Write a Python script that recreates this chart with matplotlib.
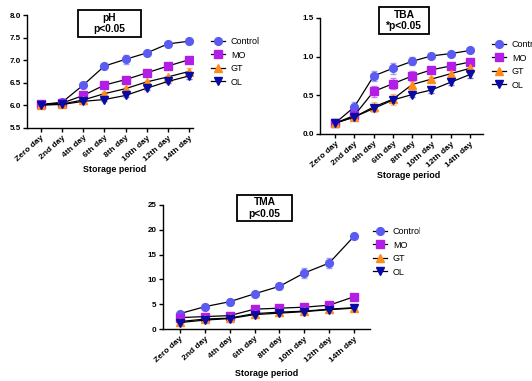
import matplotlib
matplotlib.use("Agg")
import matplotlib.pyplot as plt
from matplotlib.patches import Rectangle

plt.rcParams['font.family'] = ['Liberation Sans', 'DejaVu Sans']
plt.rcParams['font.weight'] = 'bold'

days = ["Zero day", "2nd day", "4th day", "6th day", "8th day", "10th day", "12th day", "14th day"]
groups = ["Control", "MO", "GT", "OL"]

ph_control = [6.02, 6.07, 6.45, 6.87, 7.02, 7.16, 7.36, 7.42]
ph_mo = [6.02, 6.05, 6.22, 6.45, 6.57, 6.72, 6.87, 7.01]
ph_gt = [6.01, 6.03, 6.12, 6.26, 6.37, 6.52, 6.63, 6.75]
ph_ol = [6.01, 6.02, 6.09, 6.13, 6.22, 6.38, 6.53, 6.65]
ph_err_control = [0.02, 0.02, 0.03, 0.02, 0.10, 0.03, 0.03, 0.02]
ph_err_mo = [0.02, 0.02, 0.03, 0.03, 0.03, 0.03, 0.02, 0.03]
ph_err_gt = [0.02, 0.02, 0.03, 0.03, 0.03, 0.03, 0.03, 0.07]
ph_err_ol = [0.02, 0.02, 0.03, 0.03, 0.03, 0.03, 0.03, 0.06]

tba_control = [0.14, 0.35, 0.75, 0.85, 0.94, 1.01, 1.04, 1.08]
tba_mo = [0.14, 0.24, 0.55, 0.65, 0.75, 0.83, 0.88, 0.93]
tba_gt = [0.14, 0.22, 0.35, 0.45, 0.64, 0.71, 0.78, 0.85]
tba_ol = [0.14, 0.22, 0.33, 0.44, 0.51, 0.57, 0.67, 0.77]
tba_err_control = [0.01, 0.07, 0.07, 0.07, 0.05, 0.02, 0.02, 0.02]
tba_err_mo = [0.01, 0.03, 0.07, 0.07, 0.07, 0.03, 0.03, 0.03]
tba_err_gt = [0.01, 0.02, 0.07, 0.07, 0.07, 0.03, 0.05, 0.05]
tba_err_ol = [0.01, 0.02, 0.02, 0.03, 0.03, 0.04, 0.03, 0.04]

tma_control = [3.1, 4.5, 5.5, 7.1, 8.6, 11.3, 13.3, 18.7]
tma_mo = [2.3, 2.5, 2.7, 4.0, 4.2, 4.4, 4.8, 6.5]
tma_gt = [1.5, 2.0, 2.2, 3.1, 3.4, 3.6, 4.0, 4.3]
tma_ol = [1.3, 1.8, 2.1, 2.9, 3.2, 3.5, 3.9, 4.2]
tma_err_control = [0.4, 0.5, 0.6, 0.4, 0.6, 1.0, 1.0, 0.3]
tma_err_mo = [0.3, 0.3, 0.3, 0.3, 0.3, 0.3, 0.3, 0.3]
tma_err_gt = [0.3, 0.3, 0.3, 0.3, 0.3, 0.3, 0.3, 0.3]
tma_err_ol = [0.4, 0.3, 0.3, 0.3, 0.3, 0.3, 0.3, 0.4]

colors = ['#5b5bf2', '#b31ee6', '#ff8c1a', '#0a0aa8']
markers = ['o', 's', '^', 'v']

W, H = 532, 381
fig = plt.figure(figsize=(W / 100, H / 100), dpi=100)


def px_axes(l, t, r, b):
    return fig.add_axes([l / W, 1 - b / H, (r - l) / W, (b - t) / H])


def draw_panel(ax, series, errs, ylim, yticks, yfmt, xlim, title, box, leg_xy, xlabel_px):
    x = range(len(days))
    for name, vals, err, c, m in zip(groups, series, errs, colors, markers):
        ax.errorbar(x, vals, yerr=err, fmt='none', ecolor=c, alpha=0.55,
                    elinewidth=1, capsize=2.4, capthick=1, zorder=2)
        ax.plot(x, vals, color='black', lw=0.9, marker=m, markersize=5.6,
                markerfacecolor=c, markeredgecolor=c, label=name, zorder=3)
    ax.set_ylim(*ylim)
    ax.set_yticks(yticks)
    ax.set_yticklabels([yfmt.format(v) for v in yticks], fontsize=5.8)
    ax.set_xlim(*xlim)
    ax.set_xticks(list(x))
    ax.set_xticklabels(days, rotation=42, ha='right', rotation_mode='anchor', fontsize=6)
    for s in ['top', 'right']:
        ax.spines[s].set_visible(False)
    for s in ['left', 'bottom']:
        ax.spines[s].set_linewidth(1.0)
    ax.tick_params(width=1.0, length=3, pad=1.5)
    fig.text(xlabel_px[0] / W, 1 - xlabel_px[1] / H, "Storage period",
             ha='center', va='center', fontsize=6.4, fontweight='bold')
    bl, bt, br, bb = box
    fig.patches.append(Rectangle((bl / W, 1 - bb / H), (br - bl) / W, (bb - bt) / H,
                                 transform=fig.transFigure, fill=False,
                                 edgecolor='black', lw=1.3))
    fig.text((bl + br) / 2 / W, 1 - (bt + bb) / 2 / H, title, ha='center', va='center',
             fontsize=7.4, fontweight='bold', linespacing=1.15)
    ax.legend(loc='upper left', bbox_to_anchor=(leg_xy[0] / W, 1 - leg_xy[1] / H),
              bbox_transform=fig.transFigure, frameon=False,
              handlelength=1.5, handletextpad=0.7, labelspacing=0.5,
              borderpad=0, borderaxespad=0, prop={'weight': 'normal', 'size': 6.5})


ax1 = px_axes(27, 15, 193, 128)
draw_panel(ax1, [ph_control, ph_mo, ph_gt, ph_ol],
           [ph_err_control, ph_err_mo, ph_err_gt, ph_err_ol],
           (5.5, 8.0), [5.5, 6.0, 6.5, 7.0, 7.5, 8.0], "{:.1f}", (-0.66, 7.19),
           "pH\np<0.05", (78, 10, 141, 37), (211, 37), (115, 170))

ax2 = px_axes(320, 18, 483, 134)
draw_panel(ax2, [tba_control, tba_mo, tba_gt, tba_ol],
           [tba_err_control, tba_err_mo, tba_err_gt, tba_err_ol],
           (0, 1.5), [0.0, 0.5, 1.0, 1.5], "{:.1f}", (-0.78, 7.67),
           "TBA\n*p<0.05", (379, 7, 429, 34), (492, 40), (409, 176))

ax3 = px_axes(163, 205, 370, 329)
draw_panel(ax3, [tma_control, tma_mo, tma_gt, tma_ol],
           [tma_err_control, tma_err_mo, tma_err_gt, tma_err_ol],
           (0, 25), [0, 5, 10, 15, 20, 25], "{:d}", (-0.68, 7.64),
           "TMA\np<0.05", (237, 195, 292, 221), (373, 227), (267, 374))

# the lower panel is cut off on the right in the source figure
fig.patches.append(Rectangle((420 / W, 0), 1 - 420 / W, 0.5, transform=fig.transFigure,
                             facecolor='white', edgecolor='none', zorder=10))

fig.savefig("out.png", dpi=100)
